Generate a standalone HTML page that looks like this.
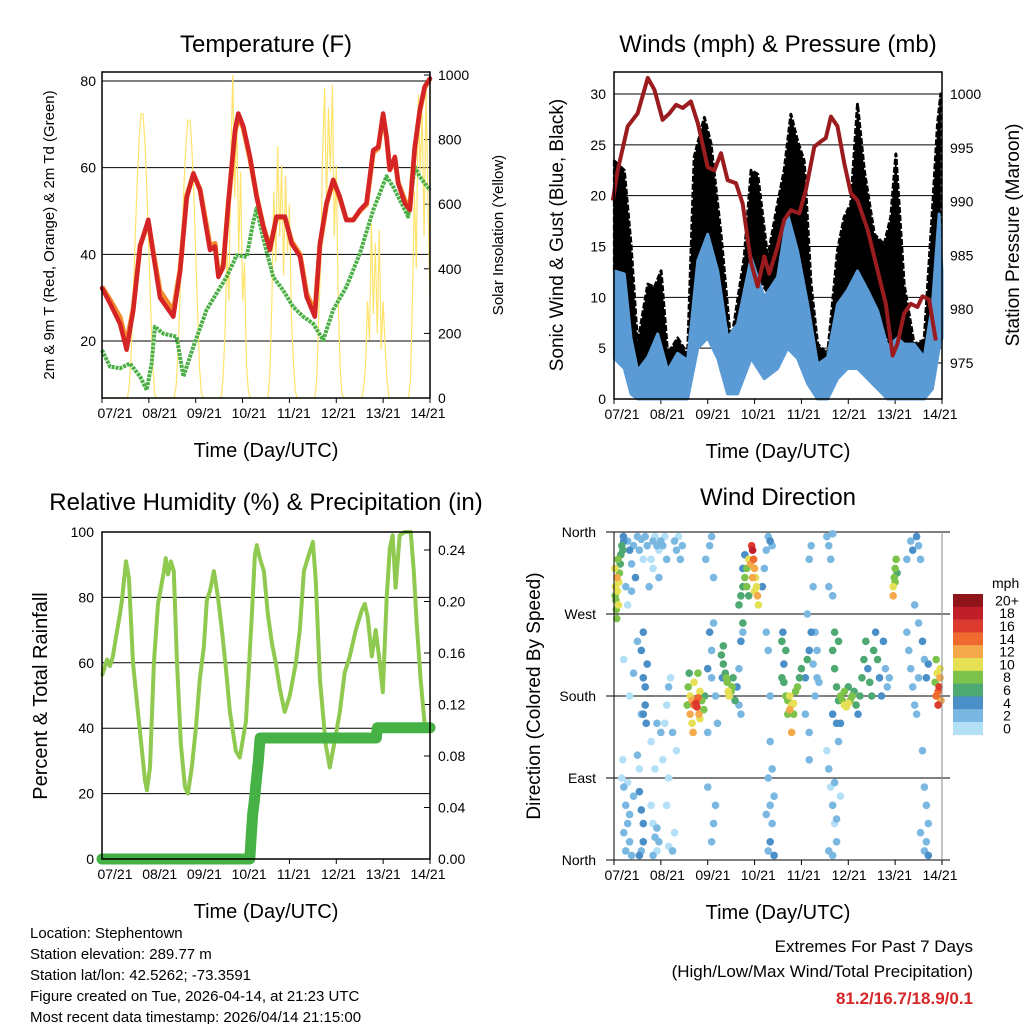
<!DOCTYPE html>
<html><head><meta charset="utf-8"><style>
html,body{margin:0;padding:0;background:#fff;}
svg{display:block;font-family:"Liberation Sans",sans-serif;}
</style></head><body>
<svg id="root" width="1024" height="1024" viewBox="0 0 1024 1024">
<g id="p1"></g>
<g id="p2"></g>
<g id="p3"></g>
<g id="p4"></g>
<g font-size="15" fill="#000">
<text x="30" y="938">Location: Stephentown</text>
<text x="30" y="959">Station elevation: 289.77 m</text>
<text x="30" y="980">Station lat/lon: 42.5262; -73.3591</text>
<text x="30" y="1001">Figure created on Tue, 2026-04-14, at 21:23 UTC</text>
<text x="30" y="1022">Most recent data timestamp: 2026/04/14 21:15:00</text>
</g>
<g text-anchor="end">
<text x="973" y="952" font-size="17">Extremes For Past 7 Days</text>
<text x="973" y="977" font-size="17">(High/Low/Max Wind/Total Precipitation)</text>
<text x="973" y="1004" font-size="17" font-weight="bold" fill="#d62728">81.2/16.7/18.9/0.1</text>
</g>
</svg>
<script>
// ---------- shared ----------
var dayLabels=["07/21","08/21","09/21","10/21","11/21","12/21","13/21","14/21"];
// ---------- Temperature ----------
var tempHours=[0,4.1,9.2,12.6,16,19.5,23.7,26.3,29.7,36.5,40,43.4,46.8,50.2,53.6,55.3,57.9,59.6,62.1,64.7,68.1,69.8,72.4,75.8,79.2,82.6,86,89.4,93.7,97.1,101.4,104.8,109,111.6,115,118.4,121.8,125.2,128.7,132.1,135.5,138.9,141.5,144,145.7,147.4,150,151.7,155.1,157.7,160.2,162.8,165.3,168];
var temp2m=[32.2,28.7,24,18,27,41.8,48,40,30,25.6,36,53,58.7,54.8,45.6,41,41.8,34.8,37,51.8,68.7,72.5,69.5,62.5,53.3,46.4,41,48.7,48.7,42.5,39.5,30.2,25.6,42.5,51.8,57.2,53.3,47.9,47.9,50.2,51.8,64,64.8,72.5,67.2,59.5,62.5,56.4,51.8,50.2,64.8,73.3,78.7,80.6];
var temp9m=[32.5,29.5,25.5,19.5,27.5,42,47.5,40.5,31.5,27,36.5,53.5,58.5,55,46.5,42,42.5,35.5,37.5,51.5,68,72,69,62,53.5,46.5,41.5,48.5,48.5,43,40,31,26.5,42,51.5,57,53,48,48,50,51.5,63.5,64.5,72,67,59.5,62,56.5,52.5,51,64.5,73,78.5,80.5];
var dewHours=[0,4.1,9.2,14.3,19.5,22.9,25.4,27.1,31.4,38.2,41.7,46.8,53.6,58.7,63.8,69,74.1,77.5,79.2,82.6,87.7,92.8,97.9,103.1,108.2,113.3,118.4,125.2,132.1,138.9,145.7,149.1,153.4,156.8,160.2,162.8,168];
var dewPt=[17.9,14.1,13.7,14.8,11.8,8.7,14.8,23.3,21.7,21,11.8,18.7,27.2,31,34.8,39.8,39.4,47.5,50.6,43.6,34.8,31.7,27.9,25.6,24,20.2,27.2,32.5,40.2,50.2,58,55.6,51.8,48.7,60.2,57.9,54.8];
var solar=[0,0,0,0,0,0,0,0,0,0,0,0,0,
0,40,150,320,500,660,800,880,880,790,640,460,270,100,10,
0,0,0,0,0,0,0,0,0,
0,40,150,320,500,660,790,860,860,780,630,450,260,90,10,
0,0,0,0,0,0,0,0,0,
0,60,200,450,300,750,1000,620,880,450,700,300,420,100,20,
0,0,0,0,0,0,0,0,0,
0,80,300,640,420,780,500,720,380,690,450,600,250,120,20,
0,0,0,0,0,0,0,0,0,
0,60,250,420,750,960,600,900,700,970,500,720,300,90,10,
0,0,0,0,0,0,0,0,0,
0,30,100,300,180,540,260,480,200,520,150,300,160,60,0,
0,0,0,0,0,0,0,0,0,
0,60,300,640,400,940,700,880,500,960,600,300];
var tempTicks=[20,40,60,80];
var solarTicks=[0,200,400,600,800,1000];
// ---------- Winds ----------
var presHours=[-0.6,1.9,7,12.1,17.3,20.7,24.9,28.4,31.8,35.2,39.4,42.9,48,51.4,54.8,58.2,62.5,65.9,70.2,73.6,77,79.5,83.8,87.2,90.6,94.9,98.3,102.6,106,108.5,111.1,114.5,117.9,121.3,124.7,129.9,135,139.2,142.7,145.2,148.6,152,155.4,158,161.4,164.8];
var pressure=[990.1,992.9,997,998.2,1001.5,1000.4,997.6,998.2,999,998.7,999.3,997.3,993.2,992.9,994.5,992,991.7,989.8,984.3,982.1,984.9,983.3,985.8,988.3,989.2,988.9,991.1,995.1,995.6,995.9,997.9,997,993.6,990.8,990.1,987.4,983.6,980.5,975.7,976.8,979.6,980.5,980.2,981.2,980.9,977.1];
var windHours=[0.2,5.3,8.7,12.1,17.3,22.4,27.5,32.6,37.7,42.9,48,53.1,58.2,63.3,70.2,77,83.8,88.9,94,99.2,104.3,109.4,114.5,119.6,124.7,129.9,135,140.1,145.2,148.6,153.7,158.9,163.1,166.5,168];
var windHigh=[12.6,12.3,6,2.8,4.1,6.4,2.8,4.5,3.8,13.6,16.2,12.6,6,7.4,13.9,10,12,18.2,14.6,9.3,3.4,4.1,9.3,10.7,12.6,10.7,8.7,5.1,6,5.4,5.4,4.1,9.3,18.2,12.6];
var windLow=[4,3,0.5,0,0,0,0,0,0,5,6,4,0.5,0.5,4,2,3,5,4,1.5,0,0,2,3,3,2,1,0,0,0,0,0,1,5,6];
var gustHours=[0.2,5.3,8.7,12.1,17.3,20.7,24.1,27.5,32.6,37.7,41.1,46.3,49.7,54.8,59.9,66.7,70.2,73.6,78.7,83.8,87.2,90.6,94,97.4,100.9,104.3,109.4,114.5,117.9,121.3,124.7,128.2,133.3,138.4,141.8,144.4,148.6,153.7,158.9,163.1,165.7,167.4];
var gustHigh=[23.4,22.5,15.2,5.4,11.3,11,12.6,4.4,6,4.4,23.8,27.7,25.1,16.2,5.4,13.9,22.5,22.1,13.9,19.2,22.5,28,25.4,23.4,11.3,5.4,4.4,14.6,17.9,19.2,29,22.5,16.2,15.2,17.9,24.1,11.3,5.4,5.8,18.5,27,30];
var windTicks=[0,5,10,15,20,25,30];
var presTicks=[975,980,985,990,995,1000];
// ---------- RH / Precip ----------
var rhHours=[0,2.6,4.1,5.6,7.2,9.2,10.2,12.3,13.8,15.9,18.4,20.5,22,23,24.6,26.6,28.7,30.2,31.7,32.7,33.8,35.3,36.8,38.4,40.4,42.5,44,46,48.1,50.1,52.2,53.7,55.3,57.3,59.4,61.4,63.5,65.5,68.6,70.6,73.7,76.8,78.3,79.3,80.8,82.9,84.9,87,89,91.1,93.6,96.2,99.3,101.3,103.4,105.4,108,109.5,111.6,114.6,116.7,119.2,121.8,124.3,126.9,130,133,134.6,136.1,138.2,140.2,142.3,143.8,145.8,147.4,148.9,150.4,152.5,155,158.1,159.7,161.2,163.2,165.3,167.8];
var rh=[56,61,59,62,68,75,79,91,86,60,45,33,24,21,28,60,78,83,88,92,87,91,88,60,35,22,20,28,40,55,65,79,82,88,80,70,58,45,33,31,42,75,93,96,92,88,75,66,60,52,45,50,60,70,88,92,97,85,55,35,28,36,45,57,62,70,76,78,74,62,70,60,51,80,95,99,83,99,100,100,88,72,55,41,41];
var precipHours=[0,75.7,76.5,77.2,78,78.8,80,81,140.5,141,168];
var precip=[0,0,0.02,0.035,0.045,0.057,0.075,0.094,0.094,0.102,0.102];
var rhTicks=[0,20,40,60,80,100];
var precipTicks=[0,0.04,0.08,0.12,0.16,0.20,0.24];
// ---------- Wind direction ----------
var dirHour=[0.5,0.8,1,1.2,1.5,1.8,2,2.3,2.5,0.6,1.4,2.8,3.5,4,4.5,5,3.2,4.8,6,7,8,9,10,11,12,13,14,15,16,17,18,19,7,9,5,8,10,12,14,15,16,15,16,16.5,15,17,14,5,6,7,8,5,6,7,8,9,10,13,14,15,15,14,13,12,13,4,4.5,19,20,21,22,20,23,21,19,22,24,22,20,21,22,23,24,25,26,27,20,23,
38,39,40,41,42,42.5,43,43.5,44,45,46,39,40,38.5,41,44,37.5,40.5,46.5,43,48,50,49,51,50,52,53,48,47,49,50,51,48,52,51,50,
55,56,57,57.5,58,58.5,59,60,60.5,61,56,55.5,62,63,64,65,64,66,64,65,66,67,68,69,70,70.5,71,71.5,72,72.5,73,73.5,74,68,69,71,72,66,67,65,66,
76,77,78,79,80,81,78,79,80,80,81,79,80,81,80,79,82,78,82,
86,87,88,89,90,91,92,93,94,95,96,87,88,86,86.5,92,90,91,89,98,99,100,101,102,103,104,98,100,100,101,102,99,100,103,104,105,
143,143.5,144,144.5,143,144,145,165,166,166.5,167,167.5,165.5,164.5,166,167,165,
112,113,114,115,116,117,118,119,120,121,122,123,124,125,126,127,128,129,130,131,132,133,134,135,136,137,138,139,140,141,113,112,114,115,116,118,120,
109,110,111,112,110,112,109,110,111,112,113,114,110,112,115,113,114,116,
150,151,152,153,154,155,156,152,153,155,156,157,150,154,156,158,159,160,161,158,159,160,161,160,161,159,157,
26,27,28,29,30,25,28,27,31,30,28,32,31,32,33,34,35];
var dirDeg=[320,300,285,275,310,295,330,280,305,290,265,315,335,345,340,350,325,355,300,350,340,325,345,310,355,340,352,330,355,345,300,330,280,295,220,180,205,240,230,200,190,160,170,150,250,215,160,80,60,40,20,30,10,85,50,5,70,75,55,40,20,10,100,115,5,90,110,60,40,25,10,5,20,100,130,150,140,35,350,355,345,340,350,345,355,330,320,310,
190,180,175,170,172,168,178,160,185,175,165,160,150,205,195,155,170,140,180,205,210,230,250,260,200,180,150,140,330,345,355,310,80,60,40,20,
225,215,205,200,195,185,180,185,190,200,235,200,175,190,170,160,210,250,280,290,300,310,320,330,325,345,340,330,320,310,300,290,280,300,290,310,295,320,335,240,260,
300,320,340,355,350,345,250,230,180,130,100,90,60,40,20,10,70,50,5,
200,195,180,175,180,170,172,185,190,200,210,215,230,240,250,160,165,140,160,200,220,230,250,215,180,200,160,140,330,345,300,270,110,250,230,195,
300,310,320,330,290,305,315,180,185,190,200,175,205,195,170,210,220,
230,210,190,175,180,175,170,168,172,175,180,185,170,160,180,200,220,240,210,195,180,230,250,220,200,180,240,210,190,200,250,160,150,240,150,185,190,
355,345,330,358,300,290,120,100,80,60,40,20,10,5,130,85,45,70,
250,230,210,190,170,160,200,350,340,355,345,330,330,280,260,240,220,200,215,120,80,60,40,20,5,10,30,
150,170,190,200,140,110,90,60,30,10,15,120,350,340,355,330,345];
var dirSpeed=[10,11,9,8,12,10,9,10,11,9,8,8,7,6,6,5,7,4,3,3,4,2,3,4,2,3,2,1,2,3,2,1,1,2,1,1,2,3,4,4,4,4,5,4,4,4,2,2,2,3,2,2,2,1,3,2,2,4,4,4,4,3,1,2,5,1,1,1,1,2,1,2,2,1,1,2,2,3,2,1,2,1,2,2,1,2,1,2,
8,10,12,14,16,17,15,12,10,9,8,12,11,7,10,10,9,12,7,9,4,3,4,3,2,3,2,3,2,3,2,3,2,3,2,3,
6,7,6,8,9,10,11,9,8,7,6,5,6,4,3,2,3,2,7,6,7,8,9,10,12,16,18,14,13,11,10,12,10,8,7,12,11,4,5,4,6,
4,3,2,3,4,3,3,2,2,2,3,2,3,3,4,3,2,2,4,
6,7,8,9,10,11,10,9,8,7,6,5,6,7,5,9,12,12,9,5,6,5,4,3,2,3,3,2,2,3,2,2,2,3,2,3,
10,9,8,8,12,9,7,14,15,16,12,13,10,9,16,11,8,
6,7,6,6,8,9,10,11,10,9,8,7,6,5,6,7,7,6,5,6,7,6,5,6,4,4,4,3,3,2,6,5,4,7,5,8,7,
2,3,2,3,2,2,1,2,1,2,1,2,2,3,2,3,2,1,
2,2,2,3,2,3,2,2,4,4,3,2,3,2,3,4,3,4,4,2,2,2,3,3,4,3,2,
1,1,2,1,2,1,1,1,1,2,1,1,2,2,1,2,2];
var dirTicks=[0,90,180,270,360];
var dirTickNames=["North","East","South","West","North"];
var speedBins=["0","2","4","6","8","10","12","14","16","18","20+"];
var speedColors=["#b3e0f7","#7ab8e2","#4a8fc7","#4ea872","#7dc24a","#e6e054","#f5a94a","#ef6a2f","#dd3a2e","#c01f2a","#8e1519"];

var NS="http://www.w3.org/2000/svg";
function mk(parent,tag,attrs){var e=document.createElementNS(NS,tag);for(var k in attrs)e.setAttribute(k,attrs[k]);parent.appendChild(e);return e;}
function lin(d0,d1,r0,r1){return function(v){return r0+(v-d0)/(d1-d0)*(r1-r0);};}
function pathFrom(xs,ys,fx,fy){var s="";for(var i=0;i<xs.length;i++){s+=(i?"L":"M")+fx(xs[i]).toFixed(1)+","+fy(ys[i]).toFixed(1);}return s;}
function interp(xs,ys,x){if(x<=xs[0])return ys[0];for(var i=1;i<xs.length;i++){if(x<=xs[i]){var t=(x-xs[i-1])/(xs[i]-xs[i-1]);return ys[i-1]+t*(ys[i]-ys[i-1]);}}return ys[ys.length-1];}

function frame(g,L,R,T,B,fx,title,titleY,lab0,lab1){
  var t=mk(g,"text",{x:(L+R)/2,y:titleY,"font-size":24,"text-anchor":"middle"});t.textContent=title;
  
  
  var fl=lin(0,7,lab0,lab1);
  for(var i=0;i<dayLabels.length;i++){
    var x=fx(i*24);
    var tk=mk(g,"line",{x1:x,x2:x,y1:B,y2:B+5,stroke:"#000","stroke-width":1});
    
    
    var lb=mk(g,"text",{x:fl(i),y:B+20,"font-size":14,"text-anchor":"middle"});lb.textContent=dayLabels[i];
    
    
  }
  var xt=mk(g,"text",{x:(L+R)/2,y:B+59,"font-size":20,"text-anchor":"middle"});xt.textContent="Time (Day/UTC)";
  
  
}
function box(g,L,R,T,B){
  var r=mk(g,"rect",{x:L,y:T,width:R-L,height:B-T,fill:"none",stroke:"#000","stroke-width":1.5});
  
  
}
function grid(g,L,R,y){
  var l=mk(g,"line",{x1:L,x2:R,y1:y,y2:y,stroke:"#000","stroke-width":1});
  
  
}
function ylabel(g,x,y,txt,size,anchor){
  var t=mk(g,"text",{x:x,y:y+5,"font-size":size||14,"text-anchor":anchor||"end"});t.textContent=txt;
  
  
}
function ytitle(g,x,y,txt,size){
  var t=mk(g,"text",{x:0,y:0,"font-size":size,"text-anchor":"middle",transform:"translate("+x+","+y+") rotate(-90)"});t.textContent=txt;
  
  
}

// ===== Panel 1 =====
(function(){
  var g=document.getElementById("p1");var L=102,R=430,T=72,B=398;
  var fx=lin(0,168,L,R), fy=lin(20,80,341,81), fs=lin(0,1000,B,75);
  frame(g,L,R,T,B,fx,"Temperature (F)",52,115,428);
  tempTicks.forEach(function(v){grid(g,L,R,fy(v));ylabel(g,L-6,fy(v),String(v));});
  solarTicks.forEach(function(v){ylabel(g,R+8,fs(v),String(v),14,"start");
    var tk=mk(g,"line",{x1:R,x2:R-6,y1:fs(v),y2:fs(v),stroke:"#000"});
    
    });
  var sh=solar.map(function(_,i){return i;});
  var s=mk(g,"path",{d:pathFrom(sh,solar,fx,fs),fill:"none",stroke:"#ffe36b","stroke-width":1.2});
  
  
  var d=mk(g,"path",{d:pathFrom(dewHours,dewPt,fx,fy),fill:"none",stroke:"#4aaf45","stroke-width":4,"stroke-dasharray":"3 1","stroke-linejoin":"round"});
  
  
  var o=mk(g,"path",{d:pathFrom(tempHours,temp9m,fx,fy),fill:"none",stroke:"#f58a2c","stroke-width":5,"stroke-linejoin":"round"});
  
  
  var r=mk(g,"path",{d:pathFrom(tempHours,temp2m,fx,fy),fill:"none",stroke:"#d42425","stroke-width":4.5,"stroke-linejoin":"round","stroke-linecap":"round"});
  
  
  box(g,L,R,T,B);
  ytitle(g,54,235,"2m & 9m T (Red, Orange) & 2m Td (Green)",15);
  ytitle(g,503,235,"Solar Insolation (Yellow)",15);
})();

// ===== Panel 2 =====
(function(){
  var g=document.getElementById("p2");var L=614,R=942,T=72,B=399;
  var fx=lin(0,168,L,R), fy=lin(0,30,B,94), fp=lin(975,1000,363,94);
  frame(g,L,R,T,B,fx,"Winds (mph) & Pressure (mb)",52,622,940);
  windTicks.forEach(function(v){if(v>0)grid(g,L,R,fy(v));ylabel(g,L-8,fy(v),String(v));});
  presTicks.forEach(function(v){ylabel(g,R+8,fp(v),String(v),14,"start");
    var tk=mk(g,"line",{x1:R,x2:R-6,y1:fp(v),y2:fp(v),stroke:"#000"});
    
    });
  // gust band (black dots) sits above the sonic-wind band
  var gl=gustHours.map(function(h){return Math.min(interp(windHours,windHigh,h),interp(gustHours,gustHigh,h));});
  var gp=pathFrom(gustHours,gustHigh,fx,fy)+pathFrom(gustHours.slice().reverse(),gl.slice().reverse(),fx,fy).replace("M","L")+"Z";
  var gb=mk(g,"path",{d:gp,fill:"#000",stroke:"#000","stroke-width":3,"stroke-linejoin":"round","stroke-dasharray":"6 2"});
  
  
  var wp=pathFrom(windHours,windHigh,fx,fy)+pathFrom(windHours.slice().reverse(),windLow.slice().reverse(),fx,fy).replace("M","L")+"Z";
  var wb=mk(g,"path",{d:wp,fill:"#5b9bd5",stroke:"#5b9bd5","stroke-width":3,"stroke-linejoin":"round"});
  
  
  var p=mk(g,"path",{d:pathFrom(presHours,pressure,fx,fp),fill:"none",stroke:"#9b1c1f","stroke-width":4,"stroke-linejoin":"round"});
  
  
  box(g,L,R,T,B);
  ytitle(g,563,235,"Sonic Wind & Gust (Blue, Black)",19);
  ytitle(g,1019,235,"Station Pressure (Maroon)",19);
})();

// ===== Panel 3 =====
(function(){
  var g=document.getElementById("p3");var L=102,R=430,T=532,B=859;
  var fx=lin(0,168,L,R), fy=lin(0,100,B,532), fp=lin(0,0.24,B,550);
  frame(g,L,R,T,B,fx,"Relative Humidity (%) & Precipitation (in)",510,115,428);
  rhTicks.forEach(function(v){if(v>0&&v<100)grid(g,L,R,fy(v));ylabel(g,L-8,fy(v),String(v));});
  precipTicks.forEach(function(v){ylabel(g,R+8,fp(v),v.toFixed(2),14,"start");
    var tk=mk(g,"line",{x1:R,x2:R-6,y1:fp(v),y2:fp(v),stroke:"#000"});
    
    });
  var r=mk(g,"path",{d:pathFrom(rhHours,rh,fx,fy),fill:"none",stroke:"#8fc94f","stroke-width":4,"stroke-linejoin":"round"});
  
  
  var p=mk(g,"path",{d:pathFrom(precipHours,precip,fx,fp),fill:"none",stroke:"#46b245","stroke-width":11,"stroke-linejoin":"round","stroke-linecap":"round"});
  
  
  box(g,L,R,T,B);
  ytitle(g,47,696,"Percent & Total Rainfall",20);
})();

// ===== Panel 4 =====
(function(){
  var g=document.getElementById("p4");var L=614,R=942,T=532,B=860;
  var fx=lin(0,168,L,R), fy=lin(0,360,B,T);
  frame(g,L,R,T,B,fx,"Wind Direction",505,622,940);
  dirTicks.forEach(function(v,i){var y=fy(v);
    var l=mk(g,"line",{x1:606,x2:950,y1:y,y2:y,stroke:"#000","stroke-width":1});
    
    
    ylabel(g,596,y,dirTickNames[i],14);});
  var order=dirHour.map(function(_,i){return i;}).sort(function(a,b){return dirSpeed[a]-dirSpeed[b];});
  order.forEach(function(i){
    var b=Math.max(0,Math.min(10,Math.floor(dirSpeed[i]/2)));
    var c=mk(g,"circle",{cx:fx(dirHour[i]),cy:fy(dirDeg[i]),r:3.8,fill:speedColors[b]});
    
    
  });
  var ax=mk(g,"line",{x1:L,x2:L,y1:T,y2:B,stroke:"#000","stroke-width":1});
  
  
  var ax2=mk(g,"line",{x1:R,x2:R,y1:T,y2:B,stroke:"#888","stroke-width":1});
  
  
  ytitle(g,540,696,"Direction (Colored By Speed)",19);
  // colorbar
  var mt=mk(g,"text",{x:992,y:588,"font-size":14});mt.textContent="mph";
  
  
  var top=594,h=12.8;
  for(var k=0;k<speedBins.length;k++){
    var idx=speedBins.length-1-k;
    var rc=mk(g,"rect",{x:953,y:top+k*h,width:30,height:h+0.3,fill:speedColors[idx]});
    
    
    var tx=mk(g,"text",{x:1007,y:top+k*h+h/2+5,"font-size":14,"text-anchor":"middle"});tx.textContent=speedBins[idx];
    
    
  }
})();
</script>
</body></html>
